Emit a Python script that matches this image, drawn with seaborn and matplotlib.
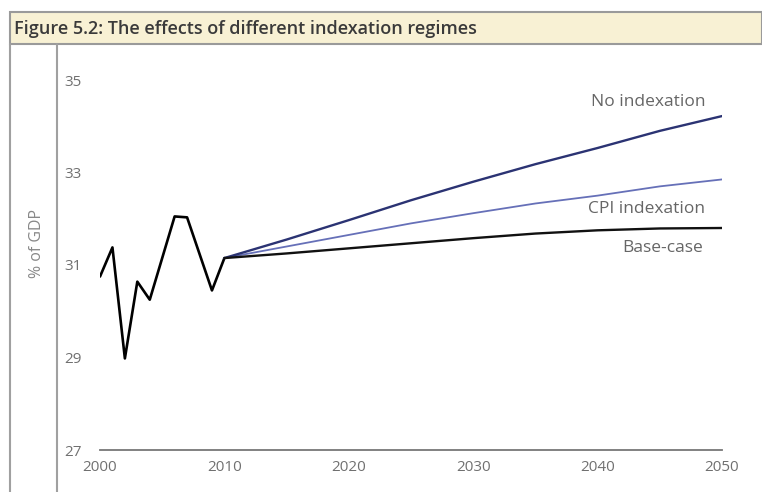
import pandas as pd
import matplotlib.pyplot as plt
import seaborn as sns
from matplotlib.patches import Rectangle
from matplotlib.lines import Line2D

# historical outturn
hist_years = [2000, 2001, 2002, 2003, 2004, 2006, 2007, 2009, 2010]
hist_values = [30.75, 31.38, 28.98, 30.64, 30.25, 32.05, 32.03, 30.45, 31.15]

# projections (read every 5 years)
proj_years = [2010, 2015, 2020, 2025, 2030, 2035, 2040, 2045, 2050]
no_index = [31.15, 31.55, 31.97, 32.4, 32.8, 33.18, 33.53, 33.9, 34.22]
cpi_index = [31.15, 31.4, 31.65, 31.9, 32.12, 32.33, 32.5, 32.7, 32.85]
base_case = [31.15, 31.25, 31.36, 31.47, 31.58, 31.68, 31.75, 31.79, 31.8]

x_ticks = [2000, 2010, 2020, 2030, 2040, 2050]
y_ticks = [27, 29, 31, 33, 35]

sns.set_theme(style="white")
plt.rcParams['font.family'] = ['Open Sans', 'DejaVu Sans']

W, H = 762, 492
fig = plt.figure(figsize=(W / 100, H / 100), dpi=100)

# title band and frame lines
band = Rectangle((10 / W, 1 - 44 / H), 1 - 10 / W, 32 / H, transform=fig.transFigure,
                 facecolor='#f8f1d4', edgecolor='#9a9a9a', linewidth=1.5)
fig.patches.append(band)
fig.text(14 / W, 1 - 29 / H, 'Figure 5.2: The effects of different indexation regimes',
         fontsize=13, color='#3a3a3a', va='center', ha='left', fontweight='semibold')
for xp in (10, 57):
    fig.lines.append(Line2D([xp / W, xp / W], [0, 1 - 44 / H], transform=fig.transFigure,
                            color='#a0a0a0', linewidth=1.5))
fig.text(37 / W, 1 - 243 / H, '% of GDP', rotation=90, fontsize=11.5, color='#888888',
         ha='center', va='center')

ax = fig.add_axes([100 / W, 42 / H, 622 / W, 370 / H])

hist = pd.DataFrame({'year': hist_years, 'value': hist_values})
proj = pd.DataFrame({'year': proj_years, 'No indexation': no_index,
                     'CPI indexation': cpi_index, 'Base-case': base_case})

sns.lineplot(data=hist, x='year', y='value', ax=ax, color='black', linewidth=1.9)
sns.lineplot(data=proj, x='year', y='CPI indexation', ax=ax, color='#6670b8', linewidth=1.3)
sns.lineplot(data=proj, x='year', y='No indexation', ax=ax, color='#2b3373', linewidth=1.7)
sns.lineplot(data=proj, x='year', y='Base-case', ax=ax, color='#111111', linewidth=1.7)

lab = dict(fontsize=12.5, color='#666666', ha='center', va='center')
ax.text(2044.05, 34.52, 'No indexation', **lab)
ax.text(2043.97, 32.21, 'CPI indexation', **lab)
ax.text(2045.26, 31.37, 'Base-case', **lab)

ax.set_xlim(2000, 2050)
ax.set_ylim(27, 35)
ax.set_xticks(x_ticks)
ax.set_yticks(y_ticks)
ax.set_xlabel('')
ax.set_ylabel('')
for s in ('top', 'right', 'left'):
    ax.spines[s].set_visible(False)
ax.spines['bottom'].set_color('#777777')
ax.spines['bottom'].set_linewidth(1.3)
ax.tick_params(axis='both', length=0, labelsize=11, labelcolor='#707070')
ax.tick_params(axis='y', pad=13)
ax.tick_params(axis='x', pad=7)
ax.patch.set_alpha(0)

fig.savefig('out.png', dpi=100)
